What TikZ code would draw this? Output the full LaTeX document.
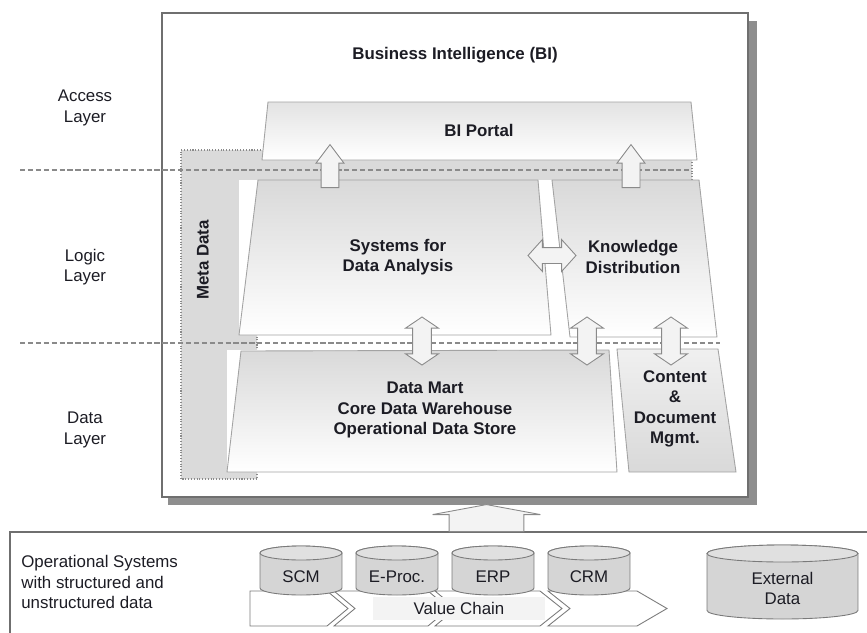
\documentclass[tikz,border=0pt]{standalone}
\usepackage{fontspec}
\setmainfont{Liberation Sans}
\usetikzlibrary{positioning, shapes.arrows}

\definecolor{ink}{HTML}{1C1C24}
\definecolor{frameline}{HTML}{6F6F6F}
\definecolor{shadowgray}{HTML}{8E8E8E}
\definecolor{metagray}{HTML}{DADADA}
\definecolor{boxline}{HTML}{A3A3A3}
\definecolor{shadetop}{HTML}{D9D9D9}
\definecolor{portaltop}{HTML}{E3E3E3}
\definecolor{arrowfill}{HTML}{F3F3F3}
\definecolor{arrowline}{HTML}{8A8A8A}
\definecolor{chainbg}{HTML}{F3F3F3}
\definecolor{dbfill}{HTML}{D5D5D5}
\definecolor{dbtop}{HTML}{E0E0E0}
\definecolor{dbline}{HTML}{7A7A7A}

\tikzstyle{txt} = [font=\fontsize{9.6}{11.6}\selectfont, text=ink, align=center, inner sep=0pt]
\tikzstyle{heading} = [txt, font=\fontsize{9.6}{11.6}\selectfont\bfseries]
\tikzstyle{layerbox} = [draw=boxline, line width=0.5pt, top color=shadetop, bottom color=white]
\tikzstyle{separator} = [draw=arrowline, dash pattern=on 3pt off 1.5pt, line width=0.6pt]
\tikzstyle{uparrow} = [single arrow, shape border rotate=90, draw=arrowline, fill=arrowfill, line width=0.5pt, anchor=tail]
\tikzstyle{twoway} = [double arrow, draw=arrowline, fill=arrowfill, line width=0.5pt, minimum height=0.96cm]
\tikzstyle{dbbody} = [draw=dbline, fill=dbfill, line width=0.5pt]
\tikzstyle{dbend} = [draw=dbline, fill=dbtop, line width=0.5pt]
\tikzstyle{chevron} = [draw=dbline, fill=white, line width=0.5pt]

\begin{document}
\begin{tikzpicture}[x=0.02cm, y=-0.02cm]
    \useasboundingbox (0,0) rectangle (867,633);

    % Business intelligence frame with its shadow.
    \fill [shadowgray] (168,21) rectangle (757,505);
    \draw [frameline, fill=white, line width=0.7pt] (162,13) rectangle (748,497);
    \node (title) [heading] at (455,55) {Business Intelligence (BI)};

    % Meta data column and the band under the portal.
    \fill [metagray] (181,150) -- (692,150) -- (692,180) -- (257,180) -- (257,479) -- (181,479) -- cycle;
    \draw [arrowline, densely dotted, line width=0.6pt] (692,180) -- (692,150) -- (181,150) -- (181,479) -- (257,479) -- (257,337);

    % Layer separators and labels.
    \draw [separator] (20,170) -- (692,170);
    \draw [separator] (20,343) -- (720,343);
    \foreach \name/\word/\y in {access/Access/108, logic/Logic/267, data/Data/430}
        \node (\name) [txt] at (85,\y) {\word\\Layer};

    % Access layer.
    \path [layerbox, top color=portaltop] (268,102) -- (691,102) -- (697,160) -- (262,160) -- cycle;
    \node (portal) [heading] at (479,130) {BI Portal};

    % Logic layer.
    \fill [white] (239,180) rectangle (551,335);
    \fill [white] (552,180) rectangle (717,337);
    \path [layerbox] (258,180) -- (538,180) -- (551,335) -- (239,335) -- cycle;
    \path [layerbox] (552,180) -- (699,180) -- (717,337) -- (570,337) -- cycle;
    \node (analysis) [heading] at (398,257) {Systems for\\Data Analysis};
    \node (knowledge) [heading] at (633,257) {Knowledge\\Distribution};

    % Data layer.
    \fill [white] (227,350) rectangle (617,472);
    \fill [white] (617,349) rectangle (737,472);
    \path [layerbox] (241,351) -- (609,350) -- (617,472) -- (227,472) -- cycle;
    \path [layerbox, top color=white!60!shadetop, middle color=white!85!shadetop, bottom color=shadetop] (617,349) -- (718,349) -- (736,472) -- (629,472) -- cycle;
    \node (warehouse) [heading] at (425,410) {Data Mart\\Core Data Warehouse\\Operational Data Store};
    \node (content) [heading] at (675,409) {Content\\\&\\Document\\Mgmt.};
    \node (meta) [heading, rotate=90] at (203,260) {Meta Data};

    % Arrows between the layers.
    \foreach \x [count=\i] in {330, 631}
        \node (portal feed \i) [uparrow, inner sep=0.17cm, minimum height=0.86cm, minimum width=0.54cm, single arrow head extend=0.1cm, single arrow tip angle=74] at (\x,188) {};
    \node (exchange) [twoway, inner sep=0.15cm, minimum width=0.62cm, double arrow head extend=0.16cm, double arrow tip angle=96] at (552,255.5) {};
    \foreach \x/\name in {422/analysis link, 587/knowledge link, 671/content link}
        \node (\name) [twoway, shape border rotate=90, inner sep=0.18cm, minimum width=0.64cm, double arrow head extend=0.14cm, double arrow tip angle=112] at (\x,341) {};

    % Operational systems.
    \draw [frameline, line width=0.6pt] (870,532) -- (10,532) -- (10,640);
    \node (supply) [uparrow, inner xsep=0.74cm, inner ysep=0pt, minimum height=0.54cm, minimum width=2.14cm, single arrow head extend=0.33cm, single arrow tip angle=159] at (486.5,532) {};
    \node (operational) [txt, align=left, anchor=west] at (21,582) {Operational Systems\\with structured and\\unstructured data};

    % Value chain.
    \foreach \l/\r/\n/\d in {250/327/0/21, 334/428/21/21, 435/540/21/22, 548/637/22/30}
        \draw [chevron] (\l,591) -- (\r,591) -- ({\r+\d},608.5) -- (\r,626) -- (\l,626) -- ({\l+\n},608.5) -- cycle;
    \fill [chainbg] (373,597) rectangle (545,620);
    \node (chain) [txt] at (459,608.5) {Value Chain};

    % Databases.
    \foreach \name/\word [count=\i] in {scm/SCM, eproc/E-Proc., erp/ERP, crm/CRM} {
        \pgfmathsetmacro{\cx}{205+96*\i}
        \path [dbbody] ({\cx-41},553) -- ({\cx-41},588) arc [start angle=180, end angle=360, x radius=0.82cm, y radius=0.14cm]
            -- ({\cx+41},553) arc [start angle=0, end angle=180, x radius=0.82cm, y radius=0.14cm] -- cycle;
        \path [dbend] (\cx,553) ellipse [x radius=0.82cm, y radius=0.14cm];
        \node (\name) [txt] at (\cx,577) {\word};
    }
    \path [dbbody] (707,553.5) -- (707,610.5) arc [start angle=180, end angle=360, x radius=1.51cm, y radius=0.17cm]
        -- (858,553.5) arc [start angle=0, end angle=180, x radius=1.51cm, y radius=0.17cm] -- cycle;
    \path [dbend] (782.5,553.5) ellipse [x radius=1.51cm, y radius=0.17cm];
    \node (external) [txt] at (782.5,588.5) {External\\Data};
\end{tikzpicture}
\end{document}
